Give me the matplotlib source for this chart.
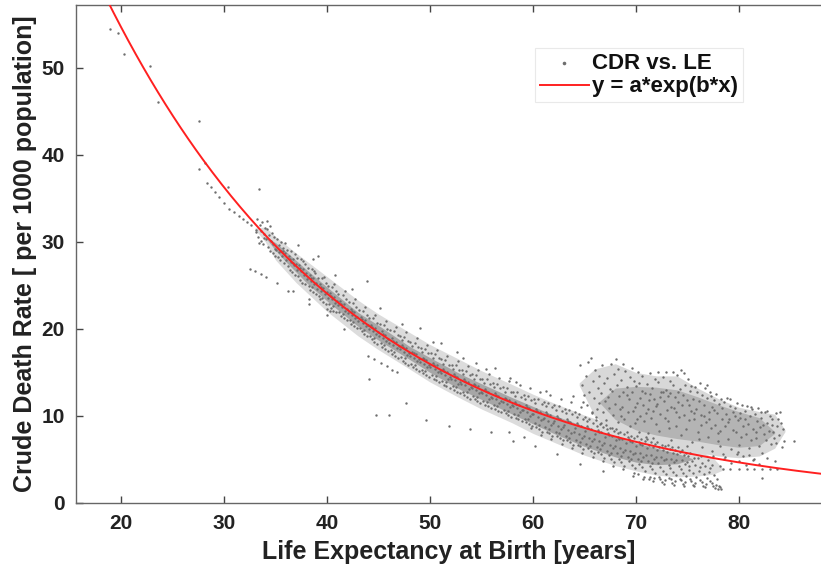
import matplotlib
matplotlib.use("Agg")
import matplotlib.pyplot as plt
import numpy as np

plt.rcParams['font.family'] = ['Liberation Sans', 'DejaVu Sans']
plt.rcParams['font.weight'] = 'bold'

# ---- fit parameters (y = a*exp(b*x)) ----
fit_a = 124.0
fit_b = -0.041

# ---- axis settings ----
x_limits = (15.6, 88.0)
y_limits = (0, 57.2)
x_ticks = [20, 30, 40, 50, 60, 70, 80]
y_ticks = [0, 10, 20, 30, 40, 50]

# ---- isolated points (read individually) ----
sparse_pts = [(18.9, 54.4), (19.7, 54.0), (20.3, 51.6), (22.8, 50.2), (23.6, 46.1),
              (27.6, 43.9), (27.6, 38.4), (28.1, 39.1), (28.3, 36.8), (28.7, 36.3),
              (29.1, 35.7), (29.5, 35.2), (30.0, 34.5), (30.4, 36.3), (33.4, 36.1),
              (30.5, 33.8), (31.0, 33.4), (31.4, 33.0), (31.8, 32.6), (32.2, 32.3),
              (32.6, 31.9), (33.1, 31.1), (34.2, 32.4), (32.5, 26.9), (33.0, 26.7),
              (33.6, 26.3), (34.1, 26.0), (35.1, 25.3), (36.2, 24.4), (36.7, 24.4),
              (38.2, 23.4), (38.2, 22.9), (40.0, 22.3), (40.3, 22.1), (40.0, 21.6),
              (41.6, 20.0), (39.1, 28.4), (43.9, 25.5), (49.0, 20.1), (56.3, 15.5),
              (44.1, 14.3), (47.7, 11.5), (44.8, 10.1), (46.0, 10.1), (49.6, 9.5),
              (51.8, 8.85), (53.9, 8.5), (55.9, 8.2), (57.7, 8.1), (59.1, 7.6),
              (44.0, 16.9), (44.6, 16.5), (45.2, 16.1), (45.8, 15.7), (46.3, 15.3),
              (46.8, 15.0), (51.1, 18.4), (52.6, 17.3), (54.5, 16.1), (57.8, 14.4),
              (61.3, 12.9), (63.9, 12.3), (58.1, 7.1), (60.2, 6.5), (62.3, 5.6),
              (64.6, 4.5), (66.8, 3.7), (85.4, 7.1), (82.3, 2.9),
              (37.2, 29.6), (38.6, 28.0), (40.8, 26.2), (42.4, 24.6), (45.1, 22.4),
              (47.3, 20.6), (50.3, 18.5), (53.2, 16.6), (55.4, 15.4), (58.4, 13.9)]

# ---- main band, life expectancy 33-50 ----
band_pts_a = [
    (33.05, 31.4), (33.2, 32.6), (33.3, 30.5), (33.45, 31.9), (33.55, 30.1), (33.6, 31.2),
    (33.7, 32.3), (33.8, 29.8), (33.85, 30.9), (33.95, 31.6), (33.4, 29.9), (33.9, 30.4),
    (34.05, 30.3), (34.15, 31.5), (34.25, 29.4), (34.35, 30.8), (34.45, 29.0), (34.55, 30.1),
    (34.6, 31.0), (34.7, 28.7), (34.75, 29.7), (34.85, 30.5), (34.95, 29.2), (34.5, 31.8), (34.9, 28.4),
    (35.05, 29.1), (35.15, 30.3), (35.2, 28.3), (35.3, 29.6), (35.4, 27.9), (35.5, 28.9), (35.55, 30.0),
    (35.65, 28.4), (35.75, 29.3), (35.8, 27.6), (35.9, 28.7), (35.95, 29.9), (35.35, 28.8), (35.7, 29.0),
    (36.05, 27.9), (36.1, 29.1), (36.2, 27.2), (36.3, 28.4), (36.35, 26.8), (36.45, 27.7), (36.5, 29.0),
    (36.6, 26.5), (36.7, 28.0), (36.75, 27.3), (36.85, 28.6), (36.9, 26.2), (36.95, 27.5), (36.4, 28.0), (36.65, 27.6),
    (37.05, 26.8), (37.1, 28.1), (37.2, 26.1), (37.3, 27.3), (37.35, 25.6), (37.45, 26.6), (37.5, 28.0),
    (37.6, 25.3), (37.65, 26.9), (37.75, 26.2), (37.85, 27.5), (37.9, 25.1), (37.95, 26.4), (37.4, 27.0), (37.7, 27.8),
    (38.05, 25.7), (38.1, 27.0), (38.2, 24.9), (38.3, 26.2), (38.35, 24.5), (38.45, 25.5), (38.5, 26.9), (38.6, 24.2),
    (38.65, 25.8), (38.75, 25.1), (38.85, 26.4), (38.9, 24.0), (38.95, 25.3), (38.4, 25.9), (38.7, 26.7), (38.55, 24.8),
    (39.05, 24.6), (39.1, 25.9), (39.2, 23.8), (39.3, 25.1), (39.35, 23.4), (39.45, 24.4), (39.5, 25.8), (39.6, 23.1),
    (39.65, 24.7), (39.75, 24.0), (39.85, 25.3), (39.9, 22.9), (39.95, 24.2), (39.4, 24.8), (39.7, 26.0), (39.55, 23.6),
    (40.05, 23.6), (40.1, 24.9), (40.2, 22.8), (40.3, 24.1), (40.35, 22.4), (40.45, 23.4), (40.5, 24.8), (40.6, 22.1),
    (40.65, 23.7), (40.75, 23.0), (40.85, 24.3), (40.9, 21.9), (40.95, 23.2), (40.4, 23.8), (40.7, 25.2), (40.55, 22.6),
    (41.05, 22.7), (41.1, 24.0), (41.2, 21.9), (41.3, 23.2), (41.35, 21.5), (41.45, 22.5), (41.5, 23.9), (41.6, 21.2),
    (41.65, 22.8), (41.75, 22.1), (41.85, 23.4), (41.9, 21.0), (41.95, 22.3), (41.4, 22.9), (41.7, 24.3), (41.55, 21.7),
    (42.05, 21.8), (42.1, 23.1), (42.2, 21.0), (42.3, 22.3), (42.35, 20.6), (42.45, 21.6), (42.5, 23.0), (42.6, 20.3),
    (42.65, 21.9), (42.75, 21.2), (42.85, 22.5), (42.9, 20.1), (42.95, 21.4), (42.4, 22.0), (42.7, 23.4), (42.55, 20.8),
    (43.05, 20.9), (43.1, 22.2), (43.2, 20.1), (43.3, 21.4), (43.35, 19.7), (43.45, 20.7), (43.5, 22.1), (43.6, 19.4),
    (43.65, 21.0), (43.75, 20.3), (43.85, 21.6), (43.9, 19.2), (43.95, 20.5), (43.4, 21.1), (43.7, 22.5), (43.55, 19.9),
    (44.05, 20.0), (44.1, 21.3), (44.2, 19.2), (44.3, 20.5), (44.35, 18.8), (44.45, 19.8), (44.5, 21.2), (44.6, 18.5),
    (44.65, 20.1), (44.75, 19.4), (44.85, 20.7), (44.9, 18.3), (44.95, 19.6), (44.4, 20.2), (44.7, 21.6), (44.55, 19.0),
    (45.05, 19.2), (45.1, 20.6), (45.2, 18.4), (45.3, 19.7), (45.35, 17.9), (45.45, 19.0), (45.5, 20.5), (45.6, 17.7),
    (45.65, 19.3), (45.75, 18.6), (45.85, 20.0), (45.9, 17.5), (45.95, 18.8), (45.4, 19.4), (45.7, 20.9), (45.55, 18.2),
    (46.05, 18.4), (46.1, 19.9), (46.2, 17.6), (46.3, 18.9), (46.35, 17.1), (46.45, 18.2), (46.5, 19.8), (46.6, 16.9),
    (46.65, 18.5), (46.75, 17.8), (46.85, 19.3), (46.9, 16.7), (46.95, 18.0), (46.4, 18.6), (46.7, 20.2), (46.55, 17.4),
    (47.05, 17.7), (47.1, 19.2), (47.2, 16.8), (47.3, 18.2), (47.35, 16.3), (47.45, 17.4), (47.5, 19.1), (47.6, 16.1),
    (47.65, 17.8), (47.75, 17.0), (47.85, 18.6), (47.9, 15.9), (47.95, 17.2), (47.4, 17.9), (47.7, 19.6), (47.55, 16.6), (47.25, 18.7),
    (48.05, 16.9), (48.1, 18.5), (48.2, 16.0), (48.3, 17.4), (48.35, 15.6), (48.45, 16.7), (48.5, 18.4), (48.6, 15.4),
    (48.65, 17.1), (48.75, 16.3), (48.85, 17.9), (48.9, 15.2), (48.95, 16.5), (48.4, 17.2), (48.7, 18.9), (48.55, 15.9), (48.25, 18.0),
    (49.05, 16.2), (49.1, 17.8), (49.2, 15.3), (49.3, 16.7), (49.35, 14.9), (49.45, 16.0), (49.5, 17.7), (49.6, 14.7),
    (49.65, 16.4), (49.75, 15.6), (49.85, 17.2), (49.9, 14.5), (49.95, 15.8), (49.4, 16.5), (49.7, 18.2), (49.55, 15.2), (49.25, 17.3),
]

# ---- main band, life expectancy 50-64 ----
band_pts_b = [
    (50.05, 15.6), (50.1, 17.2), (50.2, 14.7), (50.3, 16.1), (50.35, 14.3), (50.45, 15.4), (50.5, 17.1), (50.6, 14.1),
    (50.65, 15.8), (50.75, 15.0), (50.85, 16.6), (50.9, 13.9), (50.95, 15.2), (50.4, 15.9), (50.7, 17.6), (50.55, 14.6), (50.25, 16.7),
    (51.05, 14.9), (51.1, 16.5), (51.2, 14.0), (51.3, 15.4), (51.35, 13.6), (51.45, 14.7), (51.5, 16.4), (51.6, 13.4),
    (51.65, 15.1), (51.75, 14.3), (51.85, 15.9), (51.9, 13.2), (51.95, 14.5), (51.4, 15.2), (51.7, 16.9), (51.55, 13.9), (51.25, 16.0),
    (52.05, 14.3), (52.1, 15.9), (52.2, 13.4), (52.3, 14.8), (52.35, 13.0), (52.45, 14.1), (52.5, 15.8), (52.6, 12.8),
    (52.65, 14.5), (52.75, 13.7), (52.85, 15.3), (52.9, 12.6), (52.95, 13.9), (52.4, 14.6), (52.7, 16.3), (52.55, 13.3), (52.25, 15.4),
    (53.05, 13.7), (53.1, 15.3), (53.2, 12.8), (53.3, 14.2), (53.35, 12.4), (53.45, 13.5), (53.5, 15.2), (53.6, 12.2),
    (53.65, 13.9), (53.75, 13.1), (53.85, 14.7), (53.9, 12.0), (53.95, 13.3), (53.4, 14.0), (53.7, 15.7), (53.55, 12.7), (53.25, 14.8),
    (54.05, 13.2), (54.1, 14.8), (54.2, 12.3), (54.3, 13.7), (54.35, 11.9), (54.45, 13.0), (54.5, 14.7), (54.6, 11.7),
    (54.65, 13.4), (54.75, 12.6), (54.85, 14.2), (54.9, 11.5), (54.95, 12.8), (54.4, 13.5), (54.7, 15.3), (54.55, 12.2), (54.25, 14.3),
    (55.05, 12.6), (55.1, 14.3), (55.2, 11.7), (55.3, 13.1), (55.35, 11.3), (55.45, 12.4), (55.5, 14.2), (55.6, 11.1),
    (55.65, 12.8), (55.75, 12.0), (55.85, 13.7), (55.9, 10.9), (55.95, 12.2), (55.4, 12.9), (55.7, 14.8), (55.55, 11.6), (55.25, 13.8),
    (56.05, 12.1), (56.1, 13.8), (56.2, 11.2), (56.3, 12.6), (56.35, 10.8), (56.45, 11.9), (56.5, 13.7), (56.6, 10.6),
    (56.65, 12.3), (56.75, 11.5), (56.85, 13.2), (56.9, 10.4), (56.95, 11.7), (56.4, 12.4), (56.7, 14.4), (56.55, 11.1), (56.25, 13.3),
    (57.05, 11.6), (57.1, 13.3), (57.2, 10.7), (57.3, 12.1), (57.35, 10.3), (57.45, 11.4), (57.5, 13.2), (57.6, 10.1),
    (57.65, 11.8), (57.75, 11.0), (57.85, 12.7), (57.9, 9.9), (57.95, 11.2), (57.4, 11.9), (57.7, 14.0), (57.55, 10.6), (57.25, 12.8),
    (58.05, 11.1), (58.1, 12.8), (58.2, 10.2), (58.3, 11.6), (58.35, 9.8), (58.45, 10.9), (58.5, 12.7), (58.6, 9.6),
    (58.65, 11.3), (58.75, 10.5), (58.85, 12.2), (58.9, 9.4), (58.95, 10.7), (58.4, 11.4), (58.7, 13.6), (58.55, 10.1), (58.25, 12.3),
    (59.05, 10.7), (59.1, 12.4), (59.2, 9.7), (59.3, 11.2), (59.35, 9.3), (59.45, 10.4), (59.5, 12.3), (59.6, 9.1),
    (59.65, 10.9), (59.75, 10.0), (59.85, 11.8), (59.9, 8.9), (59.95, 10.2), (59.4, 11.0), (59.7, 13.2), (59.55, 9.6), (59.25, 11.9), (59.8, 8.6),
    (60.05, 10.2), (60.1, 12.0), (60.2, 9.2), (60.3, 10.8), (60.35, 8.7), (60.45, 9.9), (60.5, 11.9), (60.6, 8.5),
    (60.65, 10.5), (60.75, 9.5), (60.85, 11.4), (60.9, 8.2), (60.95, 9.7), (60.4, 10.6), (60.7, 12.8), (60.55, 9.0), (60.25, 11.5), (60.8, 7.8),
    (61.05, 9.8), (61.1, 11.6), (61.2, 8.7), (61.3, 10.4), (61.35, 8.2), (61.45, 9.4), (61.5, 11.5), (61.6, 8.0),
    (61.65, 10.1), (61.75, 9.0), (61.85, 11.0), (61.9, 7.7), (61.95, 9.2), (61.4, 10.2), (61.7, 12.4), (61.55, 8.5), (61.25, 11.1), (61.8, 7.3),
    (62.05, 9.4), (62.1, 11.2), (62.2, 8.2), (62.3, 10.0), (62.35, 7.7), (62.45, 8.9), (62.5, 11.1), (62.6, 7.5),
    (62.65, 9.7), (62.75, 8.5), (62.85, 10.6), (62.9, 7.2), (62.95, 8.7), (62.4, 9.8), (62.7, 12.0), (62.55, 8.0), (62.25, 10.7), (62.8, 6.8),
    (63.05, 9.0), (63.1, 10.8), (63.2, 7.7), (63.3, 9.6), (63.35, 7.2), (63.45, 8.4), (63.5, 10.7), (63.6, 7.0),
    (63.65, 9.3), (63.75, 8.0), (63.85, 10.2), (63.9, 6.7), (63.95, 8.2), (63.4, 9.4), (63.7, 11.6), (63.55, 7.5), (63.25, 10.3), (63.8, 6.3),
]

# ---- lower band and tail strands, life expectancy 64-78 ----
band_pts_c = [
    (64.05, 8.6), (64.1, 10.4), (64.2, 7.2), (64.3, 9.2), (64.35, 6.7), (64.45, 7.9), (64.5, 10.2), (64.6, 6.5),
    (64.65, 8.9), (64.75, 7.5), (64.85, 9.7), (64.9, 6.2), (64.95, 7.7), (64.4, 9.0), (64.7, 11.0), (64.55, 7.0), (64.25, 9.9), (64.8, 5.8),
    (65.05, 8.3), (65.1, 9.9), (65.2, 6.8), (65.3, 8.8), (65.35, 6.3), (65.45, 7.5), (65.5, 9.6), (65.6, 6.0),
    (65.65, 8.5), (65.75, 7.1), (65.85, 9.2), (65.9, 5.7), (65.95, 7.3), (65.4, 8.6), (65.7, 10.4), (65.55, 6.6), (65.25, 9.4), (65.8, 5.3),
    (66.05, 7.9), (66.1, 9.5), (66.2, 6.4), (66.3, 8.4), (66.35, 5.9), (66.45, 7.1), (66.5, 9.1), (66.6, 5.6),
    (66.65, 8.1), (66.75, 6.7), (66.85, 8.7), (66.9, 5.2), (66.95, 6.9), (66.4, 8.2), (66.55, 6.2), (66.25, 8.9), (66.8, 4.8),
    (67.05, 7.6), (67.1, 9.0), (67.2, 6.0), (67.3, 8.0), (67.35, 5.5), (67.45, 6.7), (67.5, 8.6), (67.6, 5.1),
    (67.65, 7.7), (67.75, 6.3), (67.85, 8.3), (67.9, 4.7), (67.95, 6.5), (67.4, 7.8), (67.55, 5.8), (67.25, 8.5), (67.8, 4.3),
    (68.05, 7.2), (68.1, 8.5), (68.2, 5.7), (68.3, 7.6), (68.35, 5.1), (68.45, 6.3), (68.5, 8.1), (68.6, 4.7),
    (68.65, 7.3), (68.75, 5.9), (68.85, 7.9), (68.9, 4.3), (68.95, 6.1), (68.4, 7.4), (68.55, 5.4), (68.25, 8.0), (68.8, 3.9),
    (69.05, 6.9), (69.1, 8.1), (69.2, 5.3), (69.3, 7.3), (69.35, 4.8), (69.45, 6.0), (69.5, 7.7), (69.6, 4.4),
    (69.65, 7.0), (69.75, 5.6), (69.85, 7.5), (69.9, 4.0), (69.95, 5.8), (69.4, 7.1), (69.55, 5.1), (69.25, 7.6), (69.8, 3.5), (69.7, 3.1),
    (70.05, 6.6), (70.1, 7.7), (70.2, 5.0), (70.3, 7.0), (70.35, 4.5), (70.45, 5.7), (70.5, 7.3), (70.6, 4.1),
    (70.65, 6.7), (70.75, 5.3), (70.85, 7.1), (70.9, 3.7), (70.95, 5.5), (70.4, 6.8), (70.55, 4.8), (70.25, 3.3), (70.8, 3.0), (70.7, 2.8),
    (71.05, 6.3), (71.1, 7.3), (71.2, 4.8), (71.3, 6.7), (71.35, 4.3), (71.45, 5.5), (71.5, 7.0), (71.6, 3.9),
    (71.65, 6.4), (71.75, 5.1), (71.85, 6.8), (71.9, 3.5), (71.95, 5.3), (71.4, 3.0), (71.55, 4.6), (71.25, 2.7), (71.8, 2.9), (71.7, 2.5),
    (72.05, 6.1), (72.1, 7.0), (72.2, 4.6), (72.3, 6.4), (72.35, 4.1), (72.45, 5.3), (72.5, 6.7), (72.6, 3.7),
    (72.65, 6.1), (72.75, 4.9), (72.85, 6.5), (72.9, 3.3), (72.95, 5.1), (72.4, 2.8), (72.55, 2.4), (72.25, 3.0), (72.8, 2.6), (72.7, 2.2),
    (73.05, 5.9), (73.1, 6.7), (73.2, 4.4), (73.3, 6.2), (73.35, 4.0), (73.45, 5.1), (73.5, 6.4), (73.6, 3.6),
    (73.65, 5.8), (73.75, 4.7), (73.85, 6.1), (73.9, 3.2), (73.95, 4.9), (73.4, 2.7), (73.55, 2.3), (73.25, 2.9), (73.8, 2.5), (73.7, 2.1),
    (74.05, 5.6), (74.1, 6.4), (74.2, 4.3), (74.3, 5.9), (74.35, 3.9), (74.45, 4.9), (74.5, 6.1), (74.6, 3.5),
    (74.65, 5.5), (74.75, 4.5), (74.85, 5.8), (74.9, 3.1), (74.95, 4.7), (74.4, 2.6), (74.55, 2.2), (74.25, 2.8), (74.8, 2.4), (74.7, 2.0),
    (75.05, 5.4), (75.2, 4.2), (75.3, 5.7), (75.45, 4.8), (75.6, 3.4), (75.65, 5.2), (75.75, 4.4), (75.9, 3.0),
    (75.4, 2.5), (75.55, 2.1), (75.25, 2.7), (75.8, 2.3), (75.7, 1.9), (75.15, 3.8),
    (76.05, 5.2), (76.2, 4.1), (76.3, 5.4), (76.45, 4.6), (76.6, 3.3), (76.75, 4.3), (76.9, 2.9),
    (76.4, 2.4), (76.55, 2.0), (76.25, 2.6), (76.8, 2.2), (76.7, 1.8), (76.15, 3.7),
    (77.05, 4.9), (77.2, 4.0), (77.45, 4.4), (77.6, 3.2), (77.9, 2.8), (77.4, 2.3), (77.55, 1.9), (77.25, 2.5),
    (77.8, 2.1), (77.7, 1.7), (78.0, 1.6), (78.2, 1.8), (78.3, 1.6), (77.15, 3.6), (78.1, 2.0),
    (78.5, 3.9), (79.2, 3.9), (80.0, 3.85), (80.8, 3.9), (81.5, 3.85), (82.3, 3.9), (83.0, 3.9), (83.7, 3.85),
    (78.6, 5.0), (79.3, 4.6), (80.0, 4.8), (80.7, 4.4), (81.4, 4.9), (82.0, 4.5), (82.8, 5.2), (83.5, 4.8),
    (79.8, 5.6), (81.0, 5.5), (77.5, 5.4), (78.2, 4.3),
]

# ---- upper cloud, life expectancy 64-85 ----
cloud_pts = [
    (64.6, 15.8), (64.8, 13.5), (65.0, 12.4), (65.2, 14.6), (65.4, 16.2), (65.5, 12.8), (64.9, 11.6), (65.3, 11.2),
    (65.6, 16.6), (65.8, 14.0), (65.9, 12.1), (66.0, 15.3), (66.2, 10.8), (66.3, 13.2), (66.4, 11.5), (66.1, 9.9), (65.7, 10.3), (66.45, 14.6),
    (66.6, 12.6), (66.7, 15.8), (66.8, 10.4), (66.9, 13.8), (67.0, 11.7), (67.1, 9.5), (67.2, 14.4), (67.3, 12.2), (67.4, 10.9), (67.45, 13.1), (66.65, 9.2),
    (67.6, 16.0), (67.7, 12.9), (67.8, 10.1), (67.9, 14.8), (68.0, 11.4), (68.1, 16.5), (68.2, 13.6), (68.3, 9.3), (68.4, 12.3), (68.45, 10.8), (67.65, 8.6), (68.25, 15.4),
    (68.6, 14.1), (68.7, 11.0), (68.8, 12.7), (68.9, 9.7), (69.0, 15.2), (69.1, 13.3), (69.2, 10.4), (69.3, 11.9), (69.4, 14.5), (69.45, 8.8), (68.75, 16.0), (69.15, 12.4), (68.55, 10.0),
    (69.6, 12.8), (69.7, 10.6), (69.8, 14.0), (69.9, 9.2), (70.0, 13.4), (70.1, 11.5), (70.2, 15.1), (70.3, 8.2), (70.4, 12.1), (70.45, 10.0), (69.65, 15.5), (70.15, 9.6), (69.95, 11.0), (70.35, 13.8),
    (70.6, 14.6), (70.7, 11.3), (70.8, 9.4), (70.9, 12.6), (71.0, 10.3), (71.1, 13.7), (71.2, 8.0), (71.3, 11.8), (71.4, 14.9), (71.45, 9.8), (70.65, 12.9), (71.15, 10.8), (70.95, 7.6), (71.35, 12.5),
    (71.6, 13.2), (71.7, 10.6), (71.8, 12.0), (71.9, 14.3), (72.0, 9.1), (72.1, 11.4), (72.2, 13.9), (72.3, 8.3), (72.4, 10.2), (72.45, 12.7), (71.65, 7.5), (72.15, 15.0), (71.95, 11.1), (72.35, 12.2),
    (72.6, 14.5), (72.7, 11.7), (72.8, 9.8), (72.9, 13.0), (73.0, 10.7), (73.1, 12.3), (73.2, 8.6), (73.3, 14.0), (73.4, 11.0), (73.45, 7.2), (72.65, 12.8), (73.15, 9.4), (72.95, 15.1), (73.35, 12.6),
    (73.6, 13.5), (73.7, 10.9), (73.8, 12.2), (73.9, 8.9), (74.0, 14.7), (74.1, 11.6), (74.2, 9.9), (74.3, 13.1), (74.4, 7.8), (74.45, 11.2), (73.65, 15.0), (74.15, 12.7), (73.95, 10.4), (74.35, 15.3),
    (74.6, 12.4), (74.7, 10.1), (74.8, 13.6), (74.9, 8.5), (75.0, 11.8), (75.1, 14.2), (75.2, 9.5), (75.3, 12.9), (75.4, 10.6), (75.45, 7.0), (74.65, 14.9), (75.15, 11.2), (74.95, 6.6), (75.35, 13.4),
    (75.6, 12.0), (75.7, 9.6), (75.8, 13.3), (75.9, 10.8), (76.0, 8.2), (76.1, 11.7), (76.2, 13.8), (76.3, 9.0), (76.4, 12.4), (76.45, 6.4), (75.65, 10.3), (76.15, 7.3), (75.95, 12.8), (76.35, 10.1),
    (76.6, 11.3), (76.7, 13.2), (76.8, 9.3), (76.9, 12.1), (77.0, 7.6), (77.1, 10.5), (77.2, 12.7), (77.3, 8.6), (77.4, 11.0), (77.45, 6.0), (76.65, 10.0), (77.15, 9.7), (76.95, 13.5), (77.35, 12.3),
    (77.6, 11.8), (77.7, 9.0), (77.8, 12.5), (77.9, 10.3), (78.0, 7.1), (78.1, 11.4), (78.2, 8.3), (78.3, 12.0), (78.4, 9.6), (78.45, 5.6), (77.65, 10.7), (78.15, 6.5), (77.95, 8.0), (78.35, 10.9),
    (78.6, 11.6), (78.7, 8.8), (78.8, 10.2), (78.9, 12.1), (79.0, 7.3), (79.1, 9.7), (79.2, 11.1), (79.3, 6.2), (79.4, 10.5), (79.45, 8.4), (78.65, 5.3), (79.15, 11.9), (78.95, 9.3),
    (79.6, 10.9), (79.7, 8.1), (79.8, 11.5), (79.9, 9.5), (80.0, 6.7), (80.1, 10.3), (80.2, 7.6), (80.3, 11.3), (80.4, 8.9), (80.45, 5.4), (79.65, 10.0), (80.15, 9.8), (79.95, 5.9),
    (80.6, 10.6), (80.7, 7.9), (80.8, 11.1), (80.9, 9.1), (81.0, 6.3), (81.1, 10.0), (81.2, 7.2), (81.3, 10.8), (81.4, 8.5), (81.45, 5.1), (80.65, 9.6), (81.15, 11.0),
    (81.6, 10.2), (81.7, 7.5), (81.8, 9.4), (81.9, 10.9), (82.0, 6.6), (82.1, 8.7), (82.2, 10.5), (82.3, 5.8), (82.4, 9.0), (82.45, 7.9), (81.65, 8.1), (82.15, 9.8),
    (82.6, 10.4), (82.7, 7.2), (82.8, 9.2), (82.9, 8.3), (83.0, 10.0), (83.1, 6.8), (83.2, 9.6), (83.3, 8.1), (83.4, 7.5), (82.75, 10.6), (83.25, 9.0),
    (83.6, 10.3), (83.7, 8.9), (83.8, 9.7), (83.9, 7.8), (84.0, 10.4), (84.1, 9.2), (84.2, 6.4), (84.3, 8.5), (84.4, 7.1), (83.65, 6.9),
]

# ---- envelopes of the saturated (overlapping-dot) parts of the cloud ----
band_outer_x = [33.0, 34, 35, 37, 40, 43, 45, 48, 50, 53, 55, 58, 60, 62, 65, 68, 70, 72, 74, 76, 77.5, 78.5]
band_outer_lo = [31.4, 30.0, 27.9, 25.3, 22.0, 19.2, 17.6, 15.4, 13.9, 12.0, 10.8, 9.2, 8.0, 7.0, 5.5, 4.3, 3.7, 3.2, 3.0, 3.1, 3.3, 3.8]
band_outer_hi = [31.6, 31.7, 30.6, 28.7, 26.0, 23.3, 21.7, 19.6, 18.2, 16.4, 15.2, 13.6, 12.5, 11.5, 10.1, 8.9, 8.2, 7.5, 6.9, 6.2, 5.2, 3.9]
band_inner_x = [34.0, 35, 36, 38, 40, 43, 45, 48, 50, 53, 55, 58, 60, 62, 65, 68, 70, 72, 74, 75.5]
band_inner_lo = [30.5, 29.0, 27.7, 25.3, 23.2, 20.3, 18.7, 16.5, 15.0, 13.0, 11.9, 10.2, 9.1, 8.0, 6.5, 5.3, 4.7, 4.4, 4.5, 5.0]
band_inner_hi = [30.6, 29.9, 28.9, 26.8, 24.8, 21.9, 20.4, 18.0, 16.7, 14.8, 13.7, 12.1, 11.1, 10.1, 8.8, 7.6, 6.9, 6.3, 5.7, 5.1]
cloud_outer_x = [64.5, 66, 68, 70, 72, 74, 76, 78, 80, 82, 83.5, 84.5]
cloud_outer_lo = [13.5, 10.0, 8.0, 7.4, 6.8, 6.3, 5.8, 5.4, 5.2, 5.4, 6.3, 8.2]
cloud_outer_hi = [13.8, 15.4, 16.0, 15.0, 14.6, 14.6, 13.2, 12.0, 11.0, 10.5, 10.2, 8.4]
cloud_inner_x = [66.5, 68, 70, 72, 74, 76, 78, 80, 82, 83.5]
cloud_inner_lo = [11.5, 9.6, 8.4, 7.8, 7.4, 7.1, 6.7, 6.4, 6.6, 8.0]
cloud_inner_hi = [11.7, 13.2, 13.4, 13.3, 13.0, 12.2, 11.3, 10.5, 9.8, 8.2]

labels = {
    'x': 'Life Expectancy at Birth [years]',
    'y': 'Crude Death Rate [ per 1000 population]',
    'scatter': 'CDR vs. LE',
    'fit': 'y = a*exp(b*x)',
}

fig = plt.figure(figsize=(8.21, 5.70), dpi=100)
ax = fig.add_axes([76 / 821, 67 / 570, 745 / 821, 498 / 570])

ax.fill_between(band_outer_x, band_outer_lo, band_outer_hi, color='#dcdcdc', lw=0, zorder=1)
ax.fill_between(band_inner_x, band_inner_lo, band_inner_hi, color='#a6a6a6', lw=0, zorder=1)
ax.fill_between(cloud_outer_x, cloud_outer_lo, cloud_outer_hi, color='#d8d8d8', lw=0, zorder=1)
ax.fill_between(cloud_inner_x, cloud_inner_lo, cloud_inner_hi, color='#b4b4b4', lw=0, zorder=1)

all_pts = sparse_pts + band_pts_a + band_pts_b + band_pts_c + cloud_pts
px, py = zip(*all_pts)
sc = ax.scatter(px, py, s=3.0, color='#6e6e6e', linewidths=0, zorder=2, label=labels['scatter'])

xf = np.linspace(x_limits[0], x_limits[1], 400)
ln, = ax.plot(xf, fit_a * np.exp(fit_b * xf), color='#ff2020', lw=1.4, zorder=3, label=labels['fit'])

ax.set_xlim(*x_limits)
ax.set_ylim(*y_limits)
ax.set_xticks(x_ticks)
ax.set_yticks(y_ticks)
ax.tick_params(direction='in', length=5, width=1.0, color='#444444', labelsize=15,
               top=True, right=False, pad=8)
for lab in ax.get_xticklabels() + ax.get_yticklabels():
    lab.set_fontweight('bold')
    lab.set_color('#222222')
for side in ['left', 'bottom', 'top']:
    ax.spines[side].set_color('#666666')
    ax.spines[side].set_linewidth(1.0)
ax.spines['right'].set_visible(False)

ax.set_xlabel(labels['x'], fontsize=18, fontweight='bold', color='#222222', labelpad=5)
ax.set_ylabel(labels['y'], fontsize=18, fontweight='bold', color='#222222', labelpad=3)

leg = ax.legend(handles=[sc, ln], loc='upper right', bbox_to_anchor=(0.895, 0.913),
                fontsize=16, frameon=True, fancybox=False, borderpad=0.22,
                handlelength=2.2, handletextpad=0.15, labelspacing=0.1,
                borderaxespad=0, markerscale=1.5)
leg.get_frame().set_edgecolor('#e4e4e4')
leg.get_frame().set_linewidth(0.8)
for t in leg.get_texts():
    t.set_fontweight('bold')
    t.set_color('#111111')

fig.savefig('out.png', dpi=100)
